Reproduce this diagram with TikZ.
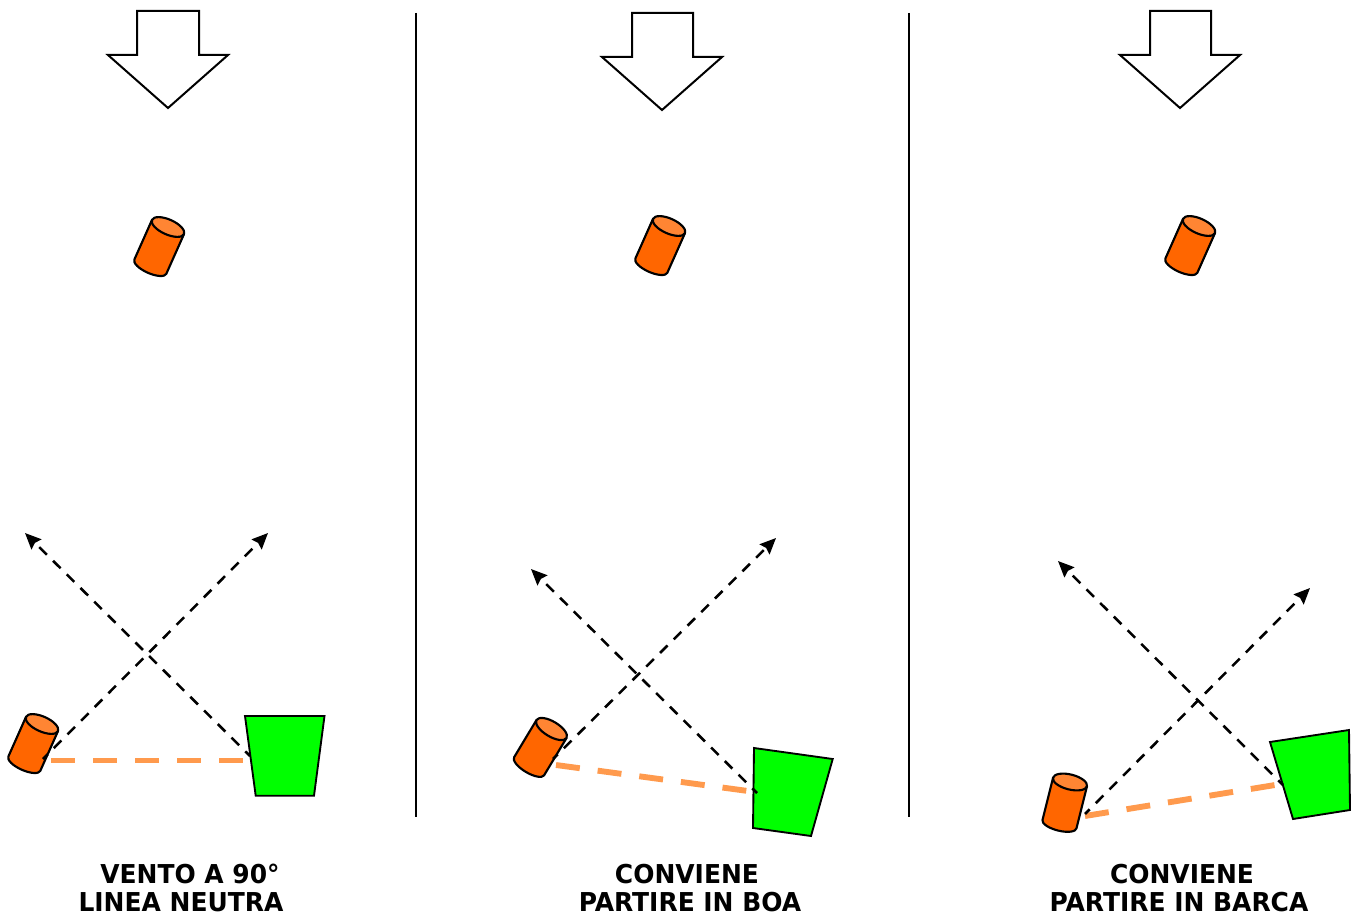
\documentclass[tikz,border=0pt]{standalone}
\usepackage{fontspec}
\setmainfont{DejaVu Sans}[BoldFeatures={FakeStretch=0.96}]
\usetikzlibrary{arrows.meta}
\definecolor{buoy}{HTML}{FF6600}
\definecolor{buoytop}{HTML}{FF8533}
\definecolor{lineorange}{HTML}{FF9A4D}
\definecolor{boat}{HTML}{00FF00}
\tikzset{
  outline/.style={draw=black,line width=1.6pt,line join=round},
  boatshape/.style={draw=black,line width=1.4pt,line join=miter,fill=boat},
  windarrow/.style={draw=black,line width=1.5pt,fill=white,line join=miter},
  divider/.style={draw=black,line width=1.3pt},
  startline/.style={draw=lineorange,line width=4.4pt,dash pattern=on 18pt off 13.5pt},
  layline/.style={draw=black,line width=1.9pt,dash pattern=on 8pt off 6.5pt,dash phase=3pt,-{Stealth[length=12pt,width=10.5pt,inset=1.5pt]}},
  caption/.style={font=\bfseries\fontsize{19.5}{22}\selectfont,inner sep=0pt,anchor=base},
  buoycyl/.pic={
    \path[outline,fill=buoy] (-17.5,0) -- (-17.5,43.5) arc[start angle=180,end angle=0,x radius=17.5,y radius=6.5] -- (17.5,0) -- cycle;
    \path[outline,fill=buoytop] (0,0) ellipse[x radius=17.5,y radius=7.5];
  }
}
\begin{document}
\begin{tikzpicture}[x=0.75pt,y=-0.75pt]
\useasboundingbox (0,0) rectangle (1356,917);
% wind arrows
\path[windarrow] (137,11)--(199,11)--(199,55)--(228,55)--(168,108)--(108,55)--(137,55)--cycle;
\path[windarrow] (632,13)--(693,13)--(693,57)--(722,57)--(662,110)--(602,57)--(632,57)--cycle;
\path[windarrow] (1150,11)--(1211,11)--(1211,55)--(1240,55)--(1180,108)--(1120,55)--(1150,55)--cycle;
% dividers
\coordinate (d1a) at (416,13); \coordinate (d1b) at (416,817);
\coordinate (d2a) at (909,13); \coordinate (d2b) at (909,817);
\draw[divider] (d1a)--(d1b);
\draw[divider] (d2a)--(d2b);
% upwind buoys
\pic[rotate=-24] at (168,227) {buoycyl};
\pic[rotate=-24] at (669,226) {buoycyl};
\pic[rotate=-24] at (1199,226) {buoycyl};
% pin buoys
\pic[rotate=-24] at (42,724) {buoycyl};
\pic[rotate=-31] at (551.5,729) {buoycyl};
\pic[rotate=-14] at (1070,782) {buoycyl};
% boats
\path[boatshape] (245,716)--(324.5,716)--(314,795.7)--(255.7,795.7)--cycle;
\path[boatshape] (754,748)--(832.7,759)--(811,836)--(753,828)--cycle;
\path[boatshape] (1270,742)--(1349,730)--(1350,810)--(1293,819)--cycle;
% panel 1 lines
\coordinate (a1) at (51,760.5); \coordinate (b1) at (245,760.5);
\coordinate (a1s) at (43,759); \coordinate (a1e) at (268,533);
\coordinate (b1s) at (250,756); \coordinate (b1e) at (25,533);
\draw[startline] (a1)--(b1);
\draw[layline] (a1s)--(a1e);
\draw[layline] (b1s)--(b1e);
% panel 2 lines
\coordinate (a2) at (556,765); \coordinate (b2) at (748,791);
\coordinate (a2s) at (553,759); \coordinate (a2e) at (776,538);
\coordinate (b2s) at (757,793); \coordinate (b2e) at (531,569);
\draw[startline] (a2)--(b2);
\draw[layline] (a2s)--(a2e);
\draw[layline] (b2s)--(b2e);
% panel 3 lines
\coordinate (a3) at (1085,816); \coordinate (b3) at (1275,785);
\coordinate (a3s) at (1085,814); \coordinate (a3e) at (1310,588);
\coordinate (b3s) at (1283,785); \coordinate (b3e) at (1058,561);
\draw[startline] (a3)--(b3);
\draw[layline] (a3s)--(a3e);
\draw[layline] (b3s)--(b3e);
% captions
\node[caption] (t1a) at (190,883) {VENTO A 90°};
\node[caption] (t1b) at (181,911) {LINEA NEUTRA};
\node[caption] (t2a) at (687,883) {CONVIENE};
\node[caption] (t2b) at (690,911) {PARTIRE IN BOA};
\node[caption] (t3a) at (1182,883) {CONVIENE};
\node[caption] (t3b) at (1179,911) {PARTIRE IN BARCA};
\end{tikzpicture}
\end{document}
